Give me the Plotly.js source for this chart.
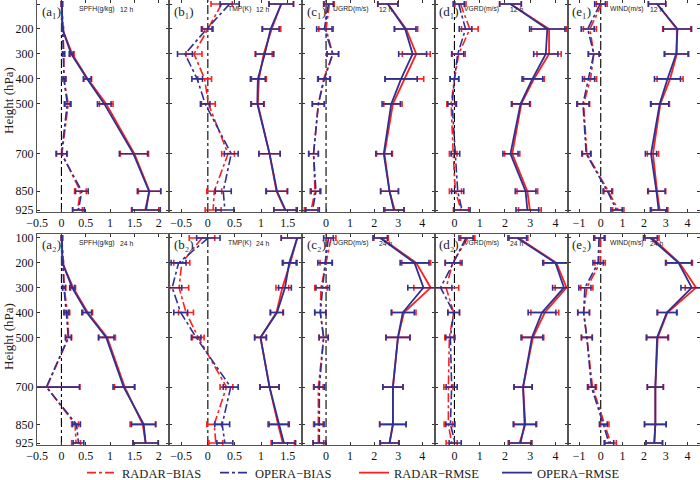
<!DOCTYPE html>
<html>
<head>
<meta charset="utf-8">
<script src="https://cdn.plot.ly/plotly-3.0.1.min.js"></script>
<style>html,body{margin:0;padding:0;background:#fff;}#chart{width:700px;height:480px;}</style>
</head>
<body>
<div id="chart"></div>
<script>
// Pressure levels (hPa)
const levels = [100, 200, 300, 400, 500, 700, 850, 925];
const yTicks = [100, 200, 300, 400, 500, 700, 850, 925];

// Panels: a1,b1,c1,d1,e1 (12 h) then a2,b2,c2,d2,e2 (24 h)
const panelLetters = ['a', 'b', 'c', 'd', 'e'];
const rowSubscripts = ['\u2081', '\u2082'];
const varNames = ['SPFH(g/kg)', 'TMP(K)', 'UGRD(m/s)', 'VGRD(m/s)', 'WIND(m/s)'];
const leadTimes = ['12 h', '24 h'];
const xTicks = [
  [-0.5, 0, 0.5, 1, 1.5, 2],
  [-0.5, 0, 0.5, 1, 1.5],
  [0, 1, 2, 3, 4],
  [0, 1, 2, 3, 4],
  [-1, 0, 1, 2, 3, 4]
];
const seriesNames = ['RADAR\u2212BIAS', 'OPERA\u2212BIAS', 'RADAR\u2212RMSE', 'OPERA\u2212RMSE'];

const radarBias = [
  [0.01, 0.03, 0.05, 0.05, 0.14, 0.01, 0.39, 0.33],
  [0.26, 0.00, -0.26, -0.06, 0.01, 0.38, 0.12, 0.10],
  [0.14, 0.00, 0.28, -0.10, -0.32, -0.52, -0.46, -0.62],
  [0.24, 0.61, 0.17, 0.00, -0.13, -0.05, 0.04, 0.26],
  [0.05, -0.50, -0.32, -0.47, -0.79, -0.64, 0.35, 0.81],
  [0.01, 0.03, 0.06, 0.12, 0.15, -0.30, 0.28, 0.30],
  [-0.11, -0.49, -0.54, -0.41, -0.18, 0.35, 0.12, 0.15],
  [0.21, 0.00, -0.21, -0.24, -0.10, -0.32, -0.32, -0.32],
  [0.53, -0.07, -0.33, -0.03, -0.20, -0.24, -0.24, -0.11],
  [-0.03, -0.03, -0.64, -0.79, -0.64, -0.38, 0.18, 0.46]
];
const radarBiasErr = [
  [0.01, 0.01, 0.02, 0.04, 0.06, 0.11, 0.12, 0.10],
  [0.20, 0.10, 0.15, 0.13, 0.13, 0.12, 0.14, 0.15],
  [0.20, 0.30, 0.24, 0.25, 0.25, 0.20, 0.20, 0.28],
  [0.22, 0.33, 0.26, 0.17, 0.17, 0.15, 0.24, 0.30],
  [0.25, 0.30, 0.25, 0.28, 0.28, 0.20, 0.20, 0.26],
  [0.01, 0.01, 0.03, 0.05, 0.06, 0.68, 0.07, 0.09],
  [0.24, 0.15, 0.18, 0.14, 0.11, 0.12, 0.14, 0.13],
  [0.20, 0.25, 0.26, 0.23, 0.19, 0.20, 0.20, 0.22],
  [0.28, 0.30, 0.50, 0.23, 0.18, 0.18, 0.17, 0.22],
  [0.24, 0.24, 0.28, 0.27, 0.25, 0.18, 0.20, 0.26]
];
const operaBias = [
  [0.01, 0.03, 0.04, 0.05, 0.12, 0.00, 0.42, 0.35],
  [0.41, -0.02, -0.43, -0.20, -0.05, 0.44, 0.29, 0.32],
  [0.10, -0.07, 0.28, -0.07, -0.32, -0.52, -0.42, -0.56],
  [0.17, 0.44, 0.13, 0.00, -0.09, 0.04, 0.13, 0.30],
  [-0.03, -0.60, -0.32, -0.56, -0.82, -0.67, 0.31, 0.73],
  [0.01, 0.03, 0.05, 0.10, 0.14, -0.31, 0.31, 0.35],
  [0.01, -0.55, -0.67, -0.51, -0.22, 0.43, 0.27, 0.32],
  [0.10, -0.04, -0.14, -0.24, -0.10, -0.28, -0.28, -0.28],
  [0.46, -0.03, -0.55, -0.03, -0.16, -0.11, -0.16, 0.03],
  [-0.08, -0.12, -0.73, -0.79, -0.64, -0.43, 0.12, 0.38]
];
const operaBiasErr = [
  [0.01, 0.01, 0.02, 0.04, 0.06, 0.11, 0.13, 0.12],
  [0.18, 0.10, 0.14, 0.10, 0.09, 0.13, 0.15, 0.17],
  [0.20, 0.32, 0.24, 0.25, 0.25, 0.20, 0.20, 0.28],
  [0.22, 0.25, 0.24, 0.17, 0.17, 0.17, 0.24, 0.32],
  [0.25, 0.30, 0.25, 0.28, 0.28, 0.20, 0.20, 0.26],
  [0.01, 0.01, 0.03, 0.05, 0.06, 0.68, 0.08, 0.11],
  [0.22, 0.14, 0.18, 0.13, 0.09, 0.14, 0.14, 0.15],
  [0.20, 0.30, 0.28, 0.23, 0.19, 0.22, 0.20, 0.26],
  [0.28, 0.33, 0.45, 0.23, 0.18, 0.22, 0.18, 0.24],
  [0.24, 0.24, 0.28, 0.27, 0.25, 0.18, 0.18, 0.22]
];
const radarRmse = [
  [0.01, 0.02, 0.22, 0.54, 0.92, 1.50, 1.81, 1.72],
  [1.38, 1.20, 1.05, 0.96, 0.94, 1.16, 1.29, 1.45],
  [2.57, 3.33, 3.75, 3.26, 2.78, 2.43, 2.64, 2.85],
  [2.22, 3.75, 3.75, 3.15, 2.65, 2.29, 2.89, 2.99],
  [2.60, 3.51, 3.51, 3.20, 2.75, 2.41, 2.60, 2.72],
  [0.01, 0.02, 0.24, 0.54, 0.94, 1.30, 1.67, 1.73],
  [1.68, 1.55, 1.40, 1.29, 0.99, 1.16, 1.32, 1.41],
  [2.29, 3.75, 4.35, 3.24, 2.99, 2.78, 2.78, 2.64],
  [2.54, 4.04, 4.44, 3.58, 3.11, 2.72, 2.81, 2.58],
  [2.37, 3.63, 4.40, 3.08, 2.63, 2.52, 2.52, 2.47]
];
const radarRmseErr = [
  [0.01, 0.01, 0.04, 0.08, 0.14, 0.29, 0.23, 0.28],
  [0.23, 0.17, 0.16, 0.14, 0.12, 0.20, 0.20, 0.21],
  [0.42, 0.48, 0.58, 0.80, 0.38, 0.33, 0.37, 0.40],
  [0.43, 0.70, 0.48, 0.41, 0.36, 0.30, 0.41, 0.45],
  [0.40, 0.65, 0.55, 0.60, 0.42, 0.26, 0.40, 0.38],
  [0.01, 0.01, 0.05, 0.10, 0.17, 0.21, 0.26, 0.26],
  [0.30, 0.13, 0.12, 0.12, 0.11, 0.18, 0.19, 0.22],
  [0.30, 0.60, 0.70, 0.50, 0.50, 0.42, 0.55, 0.38],
  [0.37, 0.50, 0.45, 0.55, 0.43, 0.36, 0.45, 0.45],
  [0.32, 0.60, 0.50, 0.45, 0.50, 0.37, 0.50, 0.38]
];
const operaRmse = [
  [0.01, 0.02, 0.20, 0.53, 0.88, 1.48, 1.80, 1.74],
  [1.38, 1.18, 1.07, 0.94, 0.93, 1.16, 1.30, 1.46],
  [2.57, 3.29, 3.60, 3.12, 2.71, 2.40, 2.64, 2.82],
  [2.22, 3.68, 3.62, 3.09, 2.62, 2.22, 2.82, 2.89],
  [2.60, 3.54, 3.48, 3.08, 2.72, 2.32, 2.57, 2.67],
  [0.01, 0.02, 0.22, 0.52, 0.92, 1.28, 1.69, 1.73],
  [1.68, 1.53, 1.45, 1.30, 0.99, 1.16, 1.34, 1.43],
  [2.25, 3.68, 4.05, 3.19, 2.99, 2.78, 2.78, 2.64],
  [2.49, 4.00, 4.34, 3.47, 3.07, 2.72, 2.78, 2.62],
  [2.29, 3.59, 4.20, 3.05, 2.60, 2.52, 2.52, 2.47]
];
const operaRmseErr = [
  [0.01, 0.01, 0.04, 0.08, 0.14, 0.29, 0.24, 0.29],
  [0.23, 0.16, 0.17, 0.14, 0.12, 0.20, 0.20, 0.22],
  [0.42, 0.45, 0.58, 0.67, 0.38, 0.33, 0.37, 0.42],
  [0.43, 0.70, 0.48, 0.41, 0.36, 0.30, 0.41, 0.45],
  [0.40, 0.65, 0.55, 0.60, 0.42, 0.26, 0.40, 0.38],
  [0.01, 0.01, 0.05, 0.10, 0.16, 0.22, 0.25, 0.26],
  [0.30, 0.13, 0.12, 0.12, 0.11, 0.18, 0.19, 0.22],
  [0.30, 0.60, 0.65, 0.48, 0.50, 0.42, 0.55, 0.40],
  [0.37, 0.50, 0.45, 0.55, 0.43, 0.36, 0.45, 0.45],
  [0.32, 0.60, 0.50, 0.45, 0.50, 0.37, 0.50, 0.38]
];

// ---------- styling / layout ----------
const W = 700, H = 480;
const RED = '#ff1f1f', BLUE = '#2e3192';
const colL = [37, 169, 302, 435, 568];
const colR = [169, 302, 435, 568, 700];
const xRanges = [[-0.502, 2.21], [-0.73, 1.77], [-1.0, 4.53], [-0.77, 4.5], [-1.51, 4.58]];
const rowTop = [0, 234], rowBot = [212, 445];
const yRange = [933, 84];
const serif = 'Liberation Serif, Times New Roman, serif';
const sans = 'Liberation Sans, Arial, sans-serif';

const seriesData = [radarBias, operaBias, radarRmse, operaRmse];
const seriesErr = [radarBiasErr, operaBiasErr, radarRmseErr, operaRmseErr];
const seriesColor = [RED, BLUE, RED, BLUE];
const seriesDash = ['dashdot', 'dashdot', 'solid', 'solid'];
const legendIds = ['legend', 'legend2', 'legend3', 'legend4'];
const legendX = [82, 215, 354, 497];

const traces = [];
const layout = {
  width: W, height: H,
  margin: {l: 0, r: 0, t: 0, b: 0, autoexpand: false},
  paper_bgcolor: '#fff', plot_bgcolor: '#fff',
  showlegend: true,
  shapes: [], annotations: []
};

legendIds.forEach((id, j) => {
  layout[id] = {
    orientation: 'h', x: legendX[j] / W, y: 7 / H, xanchor: 'left', yanchor: 'middle',
    font: {family: serif, size: 12.5, color: '#222'}, bgcolor: 'rgba(0,0,0,0)', borderwidth: 0
  };
});

for (let i = 0; i < 10; i++) {
  const col = i % 5, row = Math.floor(i / 5), k = i + 1;
  const xa = 'xaxis' + (k === 1 ? '' : k), ya = 'yaxis' + (k === 1 ? '' : k);
  const xr = 'x' + (k === 1 ? '' : k), yr = 'y' + (k === 1 ? '' : k);
  layout[xa] = {
    domain: [colL[col] / W, colR[col] / W], range: xRanges[col], anchor: yr,
    tickmode: 'array', tickvals: xTicks[col], ticks: 'inside', ticklen: 3, tickcolor: '#333',
    showline: true, linecolor: '#555', linewidth: 1, mirror: 'ticks',
    showgrid: false, zeroline: false, automargin: false,
    tickfont: {family: serif, size: 12, color: '#111'}
  };
  layout[ya] = {
    domain: [1 - rowBot[row] / H, 1 - rowTop[row] / H], range: yRange, anchor: xr,
    tickmode: 'array', tickvals: yTicks, ticks: 'inside', ticklen: 3, tickcolor: '#333',
    showticklabels: col === 0,
    showline: true, linecolor: '#555', linewidth: 1, mirror: 'ticks',
    showgrid: false, zeroline: false, automargin: false,
    tickfont: {family: serif, size: 12, color: '#111'}
  };
  // zero reference line
  layout.shapes.push({
    type: 'line', xref: xr, yref: yr + ' domain', x0: 0, x1: 0, y0: 0, y1: 1,
    line: {color: '#000', width: 1.1, dash: 'dashdot'}, layer: 'below'
  });
  for (let s = 0; s < 4; s++) {
    traces.push({
      type: 'scatter', mode: 'lines', x: seriesData[s][i], y: levels,
      xaxis: xr, yaxis: yr, name: seriesNames[s],
      legend: legendIds[s], showlegend: i === 0,
      line: {color: seriesColor[s], width: s < 2 ? 1.6 : 1.8, dash: seriesDash[s]},
      error_x: {type: 'data', array: seriesErr[s][i], visible: true,
                color: seriesColor[s], thickness: 1.6, width: 3},
      cliponaxis: true, hoverinfo: 'skip'
    });
  }
  // panel labels
  const px0 = [40, 172, 305, 437, 570][col];
  const pxVar = [77, 226, 331, 462, 608][col];
  const pxTime = [118, 254, 377, 508, 648][col];
  const yOff = rowTop[row];
  layout.annotations.push({
    xref: 'paper', yref: 'paper', x: px0 / W, y: 1 - (yOff + 11) / H,
    xanchor: 'left', yanchor: 'middle', showarrow: false,
    text: '(' + panelLetters[col] + rowSubscripts[row] + ')',
    font: {family: serif, size: 13, color: '#222'}
  });
  layout.annotations.push({
    xref: 'paper', yref: 'paper', x: pxVar / W, y: 1 - (yOff + 9) / H,
    xanchor: 'left', yanchor: 'middle', showarrow: false,
    text: varNames[col], font: {family: sans, size: 6.8, color: '#222'}
  });
  layout.annotations.push({
    xref: 'paper', yref: 'paper', x: pxTime / W, y: 1 - (yOff + 9) / H,
    xanchor: 'left', yanchor: 'middle', showarrow: false,
    text: leadTimes[row], font: {family: sans, size: 6.8, color: '#222'}
  });
}
// y axis titles
[101, 337].forEach(cy => {
  layout.annotations.push({
    xref: 'paper', yref: 'paper', x: 8 / W, y: 1 - cy / H,
    xanchor: 'center', yanchor: 'middle', showarrow: false, textangle: -90,
    text: 'Height (hPa)', font: {family: serif, size: 13, color: '#222'}
  });
});

Plotly.newPlot('chart', traces, layout, {staticPlot: true, displayModeBar: false});
</script>
</body>
</html>
